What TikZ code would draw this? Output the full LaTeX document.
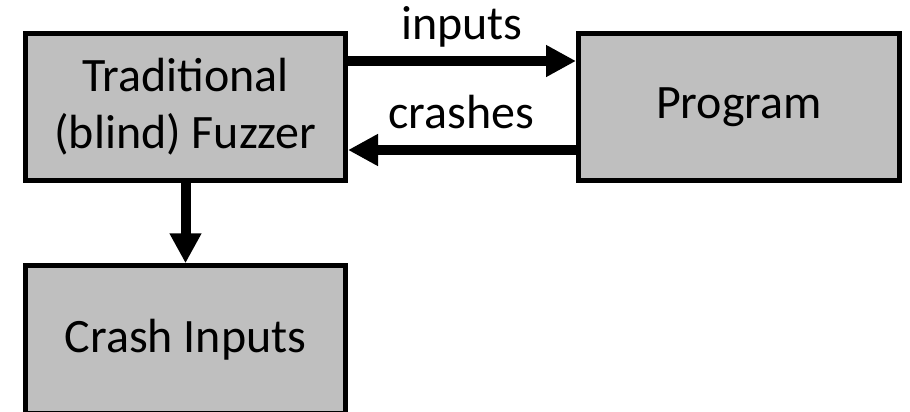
\documentclass[tikz,border=0pt]{standalone}
\usepackage{fontspec}
\setmainfont{Carlito}
\usetikzlibrary{arrows.meta}
\definecolor{boxgray}{HTML}{BFBFBF}

\begin{document}
\begin{tikzpicture}

    \tikzstyle{block} = [draw, line width=0.1cm, fill=boxgray, minimum width=6.4cm, minimum height=2.95cm, align=center, font=\fontsize{27.3}{32.4}\selectfont]
    \tikzstyle{flow} = [line width=0.2cm, -{Triangle[length=0.6cm,width=0.6cm]}]

    \useasboundingbox (0,0) rectangle (18.2,-8.22);

    % Nodes
    \node[block] at (3.71,-2.14) (fuzzer) {Traditional\\(blind) Fuzzer};
    \node[block, minimum width=6.42cm] at (14.78,-2.14) (program) {Program};
    \node[block] at (3.71,-6.79) (crash) {Crash Inputs};

    % Arrows
    \draw[flow] ([yshift=0.92cm]fuzzer.east) -- ([yshift=0.92cm]program.west);
    \draw[flow] ([yshift=-0.86cm]program.west) -- ([yshift=-0.86cm]fuzzer.east);
    \draw[flow] (fuzzer) -- (crash);

    % Labels
    \node[anchor=base, font=\fontsize{27.3}{32.4}\selectfont] at (9.24,-0.78) (inlbl) {inputs};
    \node[anchor=base, font=\fontsize{27.3}{32.4}\selectfont] at (9.22,-2.56) (crlbl) {crashes};

\end{tikzpicture}
\end{document}
